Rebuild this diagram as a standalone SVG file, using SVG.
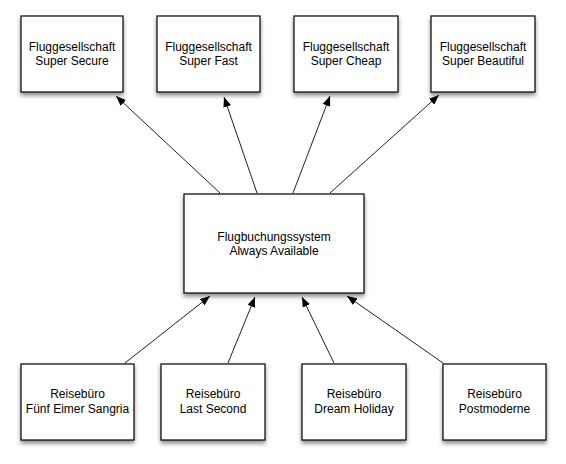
<svg xmlns="http://www.w3.org/2000/svg" width="566" height="464" viewBox="0 0 566 464">
<style>
.box{fill:#fff;stroke:#000;stroke-width:1.2;filter:url(#sh)}
.t{font-family:"Liberation Sans",Arial,sans-serif;font-size:12px;fill:#000;text-anchor:middle}
.c{stroke:#222;stroke-width:1;fill:none;marker-end:url(#ah)}
</style>
<defs>
<filter id="sh" x="-20%" y="-20%" width="140%" height="150%">
<feDropShadow dx="0" dy="3" stdDeviation="2.2" flood-color="#000" flood-opacity="0.45"/>
</filter>
<marker id="ah" viewBox="0 0 10 8" refX="10" refY="4" markerWidth="10" markerHeight="8" markerUnits="userSpaceOnUse" orient="auto">
<path d="M0,0 L10,4 L0,8 Z" fill="#000"/>
</marker>
</defs>
<rect width="566" height="464" fill="#fff"/>
<g id="connectors">
<line class="c" x1="220" y1="193" x2="116" y2="96"/>
<line class="c" x1="257" y1="193" x2="224" y2="97"/>
<line class="c" x1="293" y1="193" x2="330" y2="96"/>
<line class="c" x1="330" y1="193" x2="439" y2="95"/>
<line class="c" x1="125" y1="363" x2="210" y2="296"/>
<line class="c" x1="228" y1="363" x2="255" y2="297"/>
<line class="c" x1="334" y1="363" x2="302" y2="297"/>
<line class="c" x1="443" y1="363" x2="347" y2="296"/>
</g>
<g id="fg-secure"><rect class="box" x="21" y="16" width="102" height="76"/><text class="t" x="72" y="51">Fluggesellschaft</text><text class="t" x="72" y="65">Super Secure</text></g>
<g id="fg-fast"><rect class="box" x="157" y="16" width="103" height="76"/><text class="t" x="208.5" y="51">Fluggesellschaft</text><text class="t" x="208.5" y="65">Super Fast</text></g>
<g id="fg-cheap"><rect class="box" x="294" y="16" width="104" height="76"/><text class="t" x="346" y="51">Fluggesellschaft</text><text class="t" x="346" y="65">Super Cheap</text></g>
<g id="fg-beautiful"><rect class="box" x="431" y="16" width="104" height="76"/><text class="t" x="483" y="51">Fluggesellschaft</text><text class="t" x="483" y="65">Super Beautiful</text></g>
<g id="system"><rect class="box" x="184" y="194" width="180" height="99"/><text class="t" x="274" y="241">Flugbuchungssystem</text><text class="t" x="274" y="255">Always Available</text></g>
<g id="rb-sangria"><rect class="box" x="21" y="364" width="113" height="76"/><text class="t" x="77.5" y="398">Reisebüro</text><text class="t" x="77.5" y="413">Fünf Eimer Sangria</text></g>
<g id="rb-last"><rect class="box" x="161" y="364" width="104" height="76"/><text class="t" x="213" y="398">Reisebüro</text><text class="t" x="213" y="413">Last Second</text></g>
<g id="rb-dream"><rect class="box" x="302" y="364" width="104" height="76"/><text class="t" x="354" y="398">Reisebüro</text><text class="t" x="354" y="413">Dream Holiday</text></g>
<g id="rb-post"><rect class="box" x="443" y="364" width="103" height="76"/><text class="t" x="494.5" y="398">Reisebüro</text><text class="t" x="494.5" y="413">Postmoderne</text></g>
</svg>
